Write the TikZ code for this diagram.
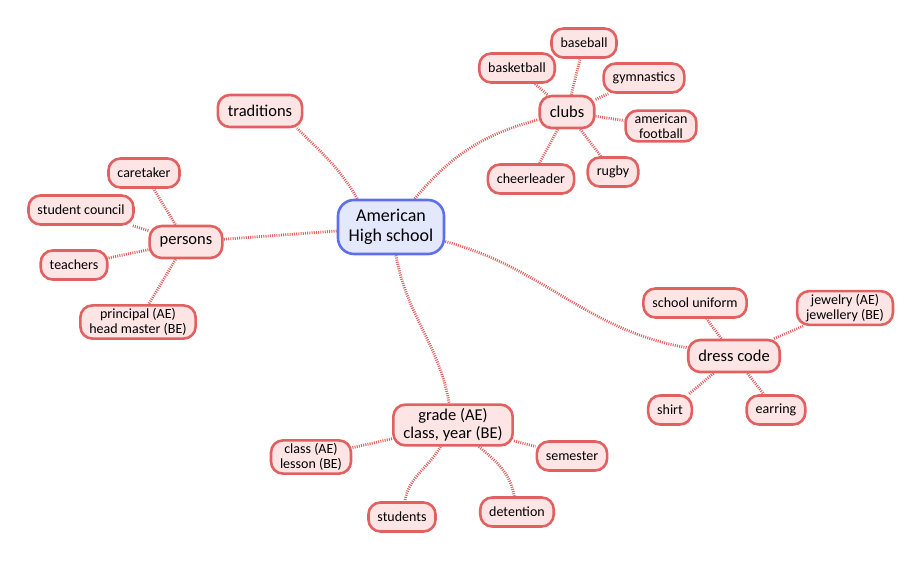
\documentclass[tikz,border=0pt]{standalone}
\usepackage{fontspec}
\setmainfont{Carlito}
\usetikzlibrary{backgrounds}
\definecolor{edgered}{RGB}{226,96,96}
\definecolor{leaffill}{RGB}{253,229,229}
\definecolor{hubblue}{RGB}{95,110,235}
\definecolor{hubfill}{RGB}{228,232,252}
\tikzset{
  leaf/.style={draw=edgered, line width=2.6pt, fill=leaffill, rounded corners=12pt,
    font=\fontsize{14}{14.5}\selectfont, inner xsep=9pt, inner ysep=4pt, minimum height=29pt, align=center},
  hub/.style={leaf, font=\fontsize{16.5}{17}\selectfont, minimum height=32pt, inner xsep=10pt},
  twoline/.style={inner ysep=3pt, font=\fontsize{14}{15}\selectfont},
  root/.style={draw=hubblue, line width=2.6pt, fill=hubfill, rounded corners=16pt,
    font=\fontsize{18}{20}\selectfont, align=center, minimum width=106pt, minimum height=54pt},
  conn/.style={draw=edgered, line width=2.8pt, dash pattern=on 1pt off 1.2pt}
}
\begin{document}
\begin{tikzpicture}[x=1pt,y=-1pt]
\useasboundingbox (0,0) rectangle (924,561);
% nodes
\node[root] (c) at (391,227) {American\\High school};
\node[hub] (trad) at (260,111) {traditions};
\node[hub] (clubs) at (567,112) {clubs};
\node[leaf] (baseball) at (584,43) {baseball};
\node[leaf] (basket) at (517,68) {basketball};
\node[leaf] (gym) at (644,78) {gymnastics};
\node[leaf,twoline] (af) at (661,126) {american\\football};
\node[leaf] (cheer) at (531,179) {cheerleader};
\node[leaf] (rugby) at (613,172) {rugby};
\node[hub] (persons) at (186,242) {persons};
\node[leaf] (care) at (144,173) {caretaker};
\node[leaf] (council) at (81,210) {student council};
\node[leaf] (teach) at (74,265) {teachers};
\node[leaf,twoline] (princ) at (138,322) {principal (AE)\\head master (BE)};
\node[hub, font=\fontsize{16.5}{18}\selectfont, inner ysep=4pt] (grade) at (453,425) {grade (AE)\\class, year (BE)};
\node[leaf,twoline] (lesson) at (311,457) {class (AE)\\lesson (BE)};
\node[leaf] (sem) at (572,456) {semester};
\node[leaf] (stud) at (402,517) {students};
\node[leaf] (det) at (517,512) {detention};
\node[hub] (dress) at (734,356) {dress code};
\node[leaf] (unif) at (695,303) {school uniform};
\node[leaf,twoline] (jew) at (845,308) {jewelry (AE)\\jewellery (BE)};
\node[leaf] (shirt) at (670,410) {shirt};
\node[leaf] (ear) at (776,410) {earring};
% connectors
\begin{scope}[on background layer]
\draw[conn] (c.140) to[out=120,in=-45] (trad.-25);
\draw[conn] (c) to[out=50,in=195] (clubs);
\draw[conn] (c) -- (persons);
\draw[conn] (c) to[out=-15,in=170] (dress);
\draw[conn] (c) to[out=-80,in=100] (grade);
\draw[conn] (clubs) -- (baseball);
\draw[conn] (clubs) -- (basket);
\draw[conn] (clubs) -- (gym);
\draw[conn] (clubs) -- (af);
\draw[conn] (clubs) -- (cheer);
\draw[conn] (clubs) -- (rugby);
\draw[conn] (persons) -- (care);
\draw[conn] (persons) -- (council);
\draw[conn] (persons) -- (teach);
\draw[conn] (persons) -- (princ);
\draw[conn] (grade) -- (lesson);
\draw[conn] (grade) -- (sem);
\draw[conn] (grade) to[out=-120,in=80] (stud);
\draw[conn] (grade) to[out=-40,in=100] (det);
\draw[conn] (dress) -- (unif);
\draw[conn] (dress) -- (jew);
\draw[conn] (dress) -- (shirt);
\draw[conn] (dress) -- (ear);
\end{scope}
\end{tikzpicture}
\end{document}
